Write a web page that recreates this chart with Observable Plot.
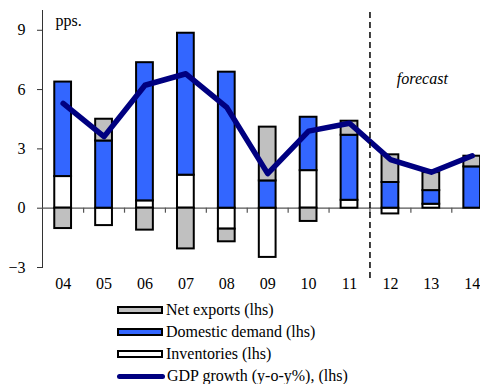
<!DOCTYPE html>
<html>
<head>
<meta charset="utf-8">
<script src="https://cdn.jsdelivr.net/npm/d3@7"></script>
<script src="https://cdn.jsdelivr.net/npm/@observablehq/plot@0.6"></script>
<style>
  body { margin: 0; background: #fff; overflow: hidden; }
  #legend { font-family: "Liberation Serif", "Times New Roman", serif; font-size: 16px; color: #000; padding-top: 3px; margin-left: 117px; }
  .row { display: flex; align-items: center; height: 22px; white-space: nowrap; }
  .box { box-sizing: border-box; width: 46px; height: 8px; border: 2px solid #000; margin-right: 3px; }
  .ln { width: 48px; height: 5px; border-radius: 3px; margin-right: 2px; }
</style>
</head>
<body>
<div id="chart"></div>
<div id="legend"></div>
<script>
// ---- data ----
const years = ["04", "05", "06", "07", "08", "09", "10", "11", "12", "13", "14"];
const inventories    = [1.6, -0.88, 0.37, 1.67, -1.06, -2.49, 1.9, 0.4, -0.29, 0.2, 0];
const domesticDemand = [4.78, 3.4, 6.99, 7.18, 6.88, 1.38, 2.7, 3.29, 1.3, 0.69, 2.09];
const netExports     = [-1.03, 1.1, -1.11, -2.06, -0.64, 2.72, -0.67, 0.71, 1.4, 0.91, 0.54];
const gdpGrowth      = [5.3, 3.62, 6.22, 6.8, 5.1, 1.75, 3.9, 4.3, 2.46, 1.82, 2.65];
const yTicks = [-3, 0, 3, 6, 9];
const seriesNames = ["Net exports (lhs)", "Domestic demand (lhs)", "Inventories (lhs)"];
const seriesColors = ["#c0c0c0", "#3366ff", "#ffffff"];
const lineName = "GDP growth (y-o-y%), (lhs)";
const lineColor = "#000080";
const forecastStart = "12";
const forecastNote = [{year: "13", value: 6.3, text: "forecast"}];
const unitLabel = "pps.";

// ---- layout ----
const W = 480, H = 296, mTop = 10, mBottom = 29, mLeft = 42;
const xRange = [42.2, 492.2];
const yDomain = [-3, 10];
const step = (xRange[1] - xRange[0]) / years.length;
const pxPerUnit = (H - mTop - mBottom) / (yDomain[1] - yDomain[0]);
const tickLen = 5 / pxPerUnit;
const font = '"Liberation Serif", "Times New Roman", serif';

// stacking order bottom-up: inventories, domestic demand, net exports
const stackData = [];
[[seriesNames[2], inventories], [seriesNames[1], domesticDemand], [seriesNames[0], netExports]]
  .forEach(([name, vals]) => years.forEach((yr, i) => stackData.push({year: yr, series: name, value: vals[i]})));
const lineData = years.map((yr, i) => ({year: yr, value: gdpGrowth[i]}));

const chart = Plot.plot({
  width: W, height: H,
  marginTop: mTop, marginBottom: mBottom, marginLeft: mLeft, marginRight: 0,
  style: {fontFamily: font, fontSize: "16px", overflow: "visible", background: "#fff"},
  x: {domain: years, range: xRange, paddingInner: 0.59, paddingOuter: 0.295, round: false, label: null},
  y: {domain: yDomain, ticks: yTicks, label: null},
  color: {domain: seriesNames, range: seriesColors},
  marks: [
    Plot.frame({anchor: "left", stroke: "#333"}),
    Plot.axisY({ticks: yTicks, tickSize: 5, tickPadding: 12, stroke: "#333", fill: "#000", fontSize: 16, label: null}),
    Plot.axisX({tickSize: 0, tickPadding: 10, fill: "#000", fontSize: 16, label: null}),
    Plot.ruleY([0], {stroke: "#555", strokeWidth: 1.2}),
    Plot.ruleX(years, {x: d => d, dx: step / 2, y1: 0, y2: -tickLen, stroke: "#555", strokeWidth: 1.2}),
    Plot.barY(stackData, Plot.stackY({x: "year", y: "value", fill: "series", stroke: "#000", strokeWidth: 2})),
    Plot.line(lineData, {x: "year", y: "value", stroke: lineColor, strokeWidth: 5.5}),
    Plot.ruleX([forecastStart], {dx: -step / 2, stroke: "#000", strokeWidth: 1.5, strokeDasharray: "6,4", insetTop: 2, insetBottom: -11}),
    Plot.text(forecastNote, {x: "year", y: "value", text: "text", dx: -9, fontStyle: "italic", fontSize: 16, fill: "#000", lineAnchor: "bottom"}),
    Plot.text([unitLabel], {frameAnchor: "top-left", text: d => d, dx: 13, dy: 4, textAnchor: "start", lineAnchor: "top", fontSize: 16, fill: "#000"})
  ]
});
document.getElementById("chart").appendChild(chart);

// ---- legend ----
const legend = document.getElementById("legend");
seriesNames.forEach((name, i) => {
  const row = document.createElement("div");
  row.className = "row";
  const sw = document.createElement("span");
  sw.className = "box";
  sw.style.background = seriesColors[i];
  const t = document.createElement("span");
  t.textContent = name;
  row.appendChild(sw); row.appendChild(t);
  legend.appendChild(row);
});
{
  const row = document.createElement("div");
  row.className = "row";
  const sw = document.createElement("span");
  sw.className = "ln";
  sw.style.background = lineColor;
  const t = document.createElement("span");
  t.textContent = lineName;
  row.appendChild(sw); row.appendChild(t);
  legend.appendChild(row);
}
</script>
</body>
</html>
